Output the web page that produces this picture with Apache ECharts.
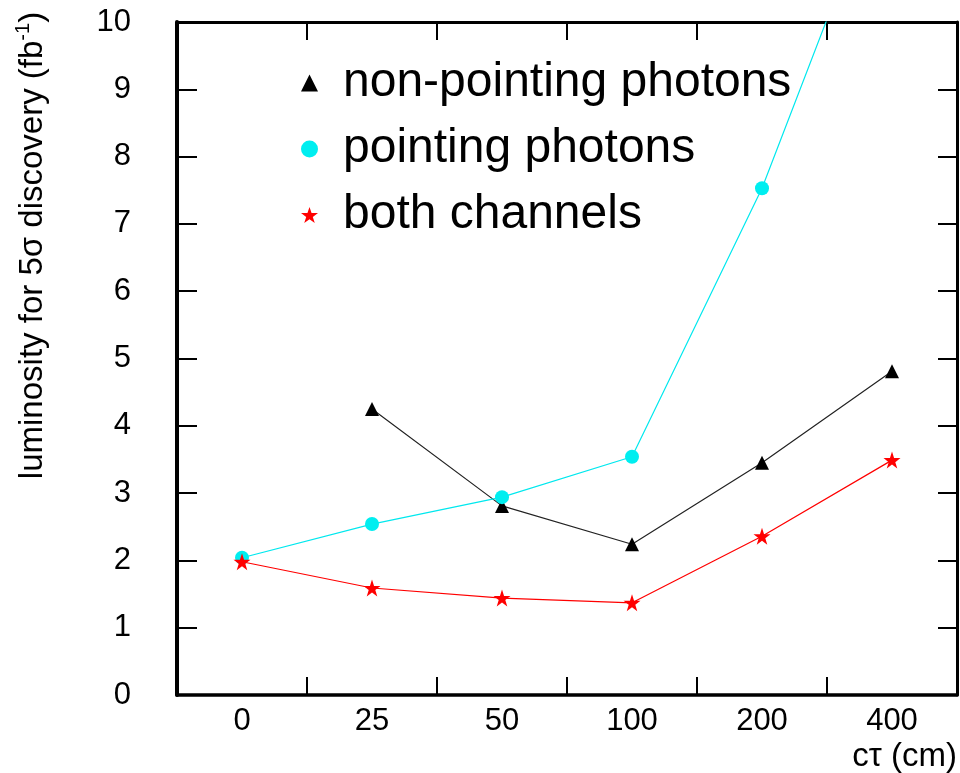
<!DOCTYPE html>
<html>
<head>
<meta charset="utf-8">
<script src="https://cdn.jsdelivr.net/npm/echarts@6/dist/echarts.min.js"></script>
<style>html,body{margin:0;padding:0;background:#fff;}#c{width:960px;height:773px;}</style>
</head>
<body>
<div id="c"></div>
<script>
const categories = ['0', '25', '50', '100', '200', '400'];
const nonPointing = [null, 4.25, 2.81, 2.24, 3.45, 4.81];
const pointing = [2.04, 2.54, 2.94, 3.54, 7.53, 12.55];
const bothChannels = [1.98, 1.59, 1.44, 1.37, 2.36, 3.49];
const yTicks = { min: 0, max: 10, interval: 1 };

const FONT = '"Liberation Sans", Arial, sans-serif';
const STAR = 'path://M50,0 L61.8,35.4 L99,35.4 L69,57.3 L80.4,92.7 L50,70.8 L19.6,92.7 L31,57.3 L1,35.4 L38.2,35.4 Z';
const chart = echarts.init(document.getElementById('c'), null, { renderer: 'canvas' });

const frameLine = (w) => ({ show: true, onZero: false, lineStyle: { color: '#000', width: w } });

chart.setOption({
  backgroundColor: '#fff',
  animation: false,
  grid: { left: 177, right: 2, top: 22, bottom: 78, containLabel: false },
  legend: {
    orient: 'vertical',
    left: 296,
    top: 54,
    itemWidth: 17,
    itemHeight: 17,
    itemGap: 18,
    textStyle: { fontFamily: FONT, fontSize: 48, color: '#000', lineHeight: 48, padding: [0, 0, 0, 20] },
    data: [
      { name: 'non-pointing photons', icon: 'triangle' },
      { name: 'pointing photons', icon: 'circle' },
      { name: 'both channels', icon: STAR }
    ]
  },
  xAxis: [
    {
      type: 'category',
      data: categories,
      position: 'bottom',
      boundaryGap: true,
      name: 'cτ (cm)',
      nameLocation: 'end',
      nameGap: 0,
      nameTextStyle: { fontFamily: FONT, fontSize: 33, color: '#000', align: 'right', verticalAlign: 'top', padding: [45, 0, 0, 0] },
      axisLine: frameLine(3.5),
      axisTick: { show: true, inside: true, length: 18, alignWithLabel: false, lineStyle: { color: '#000', width: 2 } },
      axisLabel: { fontFamily: FONT, fontSize: 31, color: '#000', margin: 11 },
      splitLine: { show: false }
    },
    {
      type: 'category',
      data: categories,
      position: 'top',
      boundaryGap: true,
      axisLine: frameLine(3),
      axisTick: { show: true, inside: true, length: 18, lineStyle: { color: '#000', width: 2 } },
      axisLabel: { show: false },
      splitLine: { show: false }
    }
  ],
  yAxis: [
    {
      type: 'value',
      min: yTicks.min, max: yTicks.max, interval: yTicks.interval,
      position: 'left',
      name: '{n|luminosity for 5σ discovery (fb}{s|-1}{n|)}',
      nameLocation: 'middle',
      nameRotate: 90,
      nameGap: 124,
      nameTextStyle: {
        fontFamily: FONT, color: '#000', fontSize: 33,
        padding: [0, 0, 0, 226],
        rich: {
          n: { fontFamily: FONT, fontSize: 33, color: '#000' },
          s: { fontFamily: FONT, fontSize: 20, color: '#000', padding: [0, 0, 20, 0] }
        }
      },
      axisLine: frameLine(4),
      axisTick: { show: true, inside: true, length: 20, lineStyle: { color: '#000', width: 2 } },
      axisLabel: { fontFamily: FONT, fontSize: 31, color: '#000', margin: 46 },
      splitLine: { show: false }
    },
    {
      type: 'value',
      min: yTicks.min, max: yTicks.max, interval: yTicks.interval,
      position: 'right',
      axisLine: frameLine(3),
      axisTick: { show: true, inside: true, length: 19, lineStyle: { color: '#000', width: 2 } },
      axisLabel: { show: false },
      splitLine: { show: false }
    }
  ],
  series: [
    {
      name: 'non-pointing photons',
      type: 'line',
      data: nonPointing,
      symbol: 'triangle',
      symbolSize: 14,
      showAllSymbol: true,
      clip: true,
      lineStyle: { color: '#222', width: 1.2 },
      itemStyle: { color: '#000' },
      z: 2
    },
    {
      name: 'pointing photons',
      type: 'line',
      data: pointing,
      symbol: 'circle',
      symbolSize: 14,
      showAllSymbol: true,
      clip: true,
      lineStyle: { color: '#00e8ee', width: 1.2 },
      itemStyle: { color: '#00eef0' },
      z: 3
    },
    {
      name: 'both channels',
      type: 'line',
      data: bothChannels,
      symbol: STAR,
      symbolSize: 17,
      showAllSymbol: true,
      clip: true,
      lineStyle: { color: '#ff0000', width: 1.2 },
      itemStyle: { color: '#ff0000' },
      z: 4
    }
  ]
});
</script>
</body>
</html>
